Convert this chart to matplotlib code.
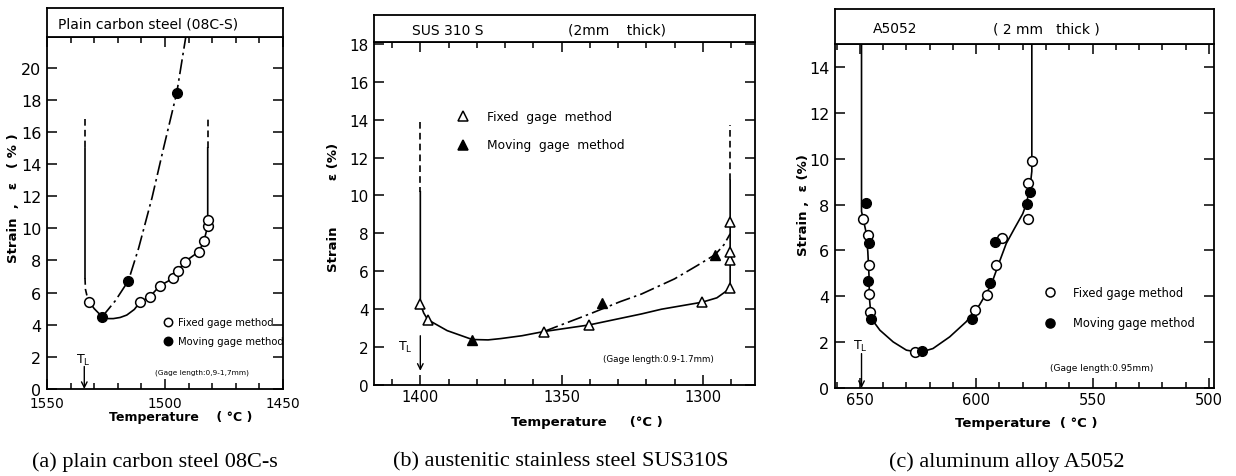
#!/usr/bin/env python3

import matplotlib.pyplot as plt
from matplotlib.ticker import MultipleLocator

# ---- (a) plain carbon steel 08C-S ----
a_fixed_temp = [1532.1, 1510.6, 1506.4, 1502.1, 1496.5, 1494.4, 1491.5, 1485.6, 1483.5, 1481.9, 1481.9]
a_fixed_strain = [5.44, 5.40, 5.75, 6.43, 6.89, 7.37, 7.93, 8.55, 9.21, 10.14, 10.52]
a_moving_temp = [1526.8, 1515.5, 1495.0]
a_moving_strain = [4.46, 6.74, 18.44]

# hand-drawn curves
a_fixed_curve_temp = [1532.1, 1530.0, 1528.0, 1526.8, 1524.0, 1521.9, 1519.0, 1516.2, 1513.0,
                      1510.6, 1506.4, 1502.1, 1496.5, 1494.4, 1491.5, 1485.6, 1483.5, 1481.9,
                      1481.9, 1481.9]
a_fixed_curve_strain = [5.44, 5.00, 4.70, 4.50, 4.38, 4.38, 4.45, 4.60, 4.95,
                        5.40, 5.75, 6.43, 6.89, 7.37, 7.93, 8.55, 9.21, 10.14,
                        10.52, 15.0]
a_left_solid_temp = [1533.9, 1533.9]
a_left_solid_strain = [15.0, 6.9]
a_left_top_temp = [1533.9, 1533.9]
a_left_top_strain = [16.8, 15.0]
a_left_low_temp = [1533.9, 1533.7, 1532.9, 1532.1]
a_left_low_strain = [6.9, 6.2, 5.7, 5.44]
a_right_top_temp = [1481.9, 1481.9]
a_right_top_strain = [15.0, 16.8]
a_moving_curve_temp = [1526.8, 1521.0, 1515.5, 1511.2, 1505.5, 1500.6, 1495.0, 1491.2]
a_moving_curve_strain = [4.46, 5.50, 6.74, 8.75, 11.9, 15.0, 18.44, 21.9]
a_liquidus = 1534.2

# ---- (b) austenitic stainless steel SUS310S ----
b_fixed_temp = [1400.0, 1397.4, 1356.3, 1340.2, 1300.2, 1290.3, 1290.3, 1290.3, 1290.3]
b_fixed_strain = [4.28, 3.45, 2.82, 3.17, 4.37, 5.10, 6.60, 7.00, 8.60]
b_moving_temp = [1381.6, 1335.6, 1295.6]
b_moving_strain = [2.38, 4.35, 6.88]

b_fixed_curve_temp = [1400.0, 1400.0, 1398.8, 1397.4, 1390.5, 1385.0, 1381.6, 1376.0, 1371.5,
                      1364.0, 1356.3, 1340.2, 1321.7, 1314.6, 1300.2, 1295.0, 1290.3, 1290.3]
b_fixed_curve_strain = [10.2, 4.28, 3.80, 3.45, 2.87, 2.58, 2.40, 2.38, 2.45,
                        2.60, 2.82, 3.17, 3.75, 4.00, 4.37, 4.60, 5.10, 10.8]
b_left_top_temp = [1400.0, 1400.0]
b_left_top_strain = [13.9, 10.2]
b_right_top_temp = [1290.3, 1290.3]
b_right_top_strain = [10.8, 13.7]
b_moving_curve_temp = [1356.3, 1340.0, 1329.2, 1321.7, 1310.0, 1302.0, 1295.6, 1292.5, 1290.3]
b_moving_curve_strain = [2.82, 3.75, 4.40, 4.80, 5.60, 6.30, 6.88, 7.40, 7.98]
b_liquidus = 1400.0

# ---- (c) aluminum alloy A5052 ----
c_fixed_temp = [648.6, 646.4, 646.0, 646.0, 645.7, 626.3, 600.7, 595.3, 591.7, 588.8, 577.9, 577.7, 576.1]
c_fixed_strain = [7.38, 6.65, 5.36, 4.10, 3.32, 1.57, 3.40, 4.05, 5.36, 6.56, 8.96, 7.36, 9.91]
c_moving_temp = [647.4, 646.1, 646.6, 645.1, 623.1, 601.7, 593.9, 592.1, 578.1, 577.1]
c_moving_strain = [8.06, 6.31, 4.66, 3.00, 1.60, 3.03, 4.60, 6.38, 8.03, 8.53]

c_curve_temp = [649.3, 649.3, 648.6, 647.4, 646.6, 646.1, 645.9, 645.1, 641.4, 635.7, 630.0,
                624.3, 618.6, 611.4, 604.3, 598.6, 593.6, 590.0, 587.1, 583.6, 580.0,
                578.6, 576.9, 576.1, 576.1, 576.1]
c_curve_strain = [15.0, 7.70, 7.38, 6.82, 5.95, 4.93, 3.91, 3.03, 2.52, 2.01, 1.65,
                  1.55, 1.72, 2.23, 2.89, 3.62, 4.49, 5.51, 6.30, 6.95, 7.60,
                  7.99, 8.72, 9.45, 9.91, 15.0]
c_liquidus = 649.3

DASH_DOT = (0, (9, 2.5, 1.5, 2.5))
DASHED = (0, (4, 2.5))
FONT = "DejaVu Sans"


def style_axes(ax, xlim, ylim, xmajor, ymajor, xlabel_size, ylabel_size, xpad=3):
    ax.set_xlim(*xlim)
    ax.set_ylim(*ylim)
    ax.xaxis.set_major_locator(MultipleLocator(xmajor))
    ax.xaxis.set_minor_locator(MultipleLocator(10))
    ax.yaxis.set_major_locator(MultipleLocator(ymajor))
    ax.tick_params(which="both", direction="in", top=True, right=True, width=1.1)
    ax.tick_params(which="major", length=7)
    ax.tick_params(which="minor", length=4)
    ax.tick_params(axis="x", labelsize=xlabel_size, pad=xpad)
    ax.tick_params(axis="y", labelsize=ylabel_size, pad=4)
    for s in ax.spines.values():
        s.set_linewidth(1.3)


def header(fig, rect, items, size):
    hx = fig.add_axes(rect)
    hx.set_xticks([])
    hx.set_yticks([])
    for s in hx.spines.values():
        s.set_linewidth(1.3)
    for x, txt in items:
        hx.text(x, 0.45, txt, ha="left", va="center", fontsize=size, family=FONT)


def legend_keys(ax, x, y1, y2, tx, marker, size, fs, gap=""):
    ax.plot([x], [y1], marker=marker, ms=size, mfc="white", mec="black", mew=1.1,
            transform=ax.transAxes, clip_on=False)
    ax.plot([x], [y2], marker=marker, ms=size, mfc="black", mec="black", mew=1.1,
            transform=ax.transAxes, clip_on=False)
    ax.text(tx, y1, gap.join(["Fixed", "gage", "method"]) if gap else "Fixed gage method",
            transform=ax.transAxes, va="center", fontsize=fs, family=FONT)
    ax.text(tx, y2, gap.join(["Moving", "gage", "method"]) if gap else "Moving gage method",
            transform=ax.transAxes, va="center", fontsize=fs, family=FONT)


def liquidus(ax, temp, y_from, y_to, tx, ty):
    ax.annotate("", xy=(temp, y_to), xytext=(temp, y_from),
                arrowprops=dict(arrowstyle="->", lw=1.0, color="black", shrinkA=0, shrinkB=0))
    ax.text(tx, ty, r"T$_\mathregular{L}$", ha="center", va="center", fontsize=9, family=FONT)


def draw_a(fig):
    ax = fig.add_axes([47 / 1236, 87 / 477, 236 / 1236, 352 / 477])
    style_axes(ax, (1550, 1450), (0, 21.9), 50, 2, 9.8, 11.5, xpad=5)

    ax.plot(a_fixed_curve_temp, a_fixed_curve_strain, color="black", lw=1.2)
    ax.plot(a_left_solid_temp, a_left_solid_strain, color="black", lw=1.2)
    ax.plot(a_left_top_temp, a_left_top_strain, color="black", lw=1.2, ls=DASHED)
    ax.plot(a_left_low_temp, a_left_low_strain, color="black", lw=1.2, ls=DASHED)
    ax.plot(a_right_top_temp, a_right_top_strain, color="black", lw=1.2, ls=DASHED)
    ax.plot(a_moving_curve_temp, a_moving_curve_strain, color="black", lw=1.2, ls=DASH_DOT)
    ax.plot(a_fixed_temp, a_fixed_strain, "o", ms=7, mfc="white", mec="black", mew=1.1, zorder=3)
    ax.plot(a_moving_temp, a_moving_strain, "o", ms=7, mfc="black", mec="black", zorder=3)

    liquidus(ax, a_liquidus, 1.4, 0, 1534.6, 1.85)
    legend_keys(ax, 0.513, 0.190, 0.136, 0.555, "o", 6, 7.2)
    ax.text(0.458, 0.048, "(Gage length:0,9-1,7mm)", transform=ax.transAxes,
            fontsize=5.3, family=FONT, va="center")
    ax.text(0.568, -0.077, "Temperature    ( °C )", transform=ax.transAxes, ha="center",
            va="center", fontsize=9, fontweight="bold", family=FONT)
    ax.text(-0.14, 0.545, "Strain  ,   ε   ( % )", transform=ax.transAxes, ha="center",
            va="center", rotation=90, fontsize=9.5, fontweight="bold", family=FONT)
    header(fig, [47 / 1236, 1 - 38 / 477, 236 / 1236, 29 / 477],
           [(0.047, "Plain carbon steel (08C-S)")], 10)


def draw_b(fig):
    ax = fig.add_axes([374 / 1236, 91 / 477, 381 / 1236, 343 / 477])
    style_axes(ax, (1416.4, 1281.5), (0, 18.1), 50, 2, 10.5, 11)

    ax.plot(b_fixed_curve_temp, b_fixed_curve_strain, color="black", lw=1.2)
    ax.plot(b_left_top_temp, b_left_top_strain, color="black", lw=1.2, ls=DASHED)
    ax.plot(b_right_top_temp, b_right_top_strain, color="black", lw=1.2, ls=DASHED)
    ax.plot(b_moving_curve_temp, b_moving_curve_strain, color="black", lw=1.2, ls=DASH_DOT)
    ax.plot(b_fixed_temp, b_fixed_strain, "^", ms=7.5, mfc="white", mec="black", mew=1.1, zorder=3)
    ax.plot(b_moving_temp, b_moving_strain, "^", ms=7.5, mfc="black", mec="black", zorder=3)

    liquidus(ax, b_liquidus, 2.6, 0.75, 1405.2, 2.05)
    legend_keys(ax, 0.234, 0.784, 0.700, 0.297, "^", 6.5, 8.8, gap="  ")
    ax.text(0.601, 0.076, "(Gage length:0.9-1.7mm)", transform=ax.transAxes,
            fontsize=6.3, family=FONT, va="center")
    ax.text(0.559, -0.105, "Temperature     (°C )", transform=ax.transAxes, ha="center",
            va="center", fontsize=9.5, fontweight="bold", family=FONT)
    ax.text(-0.105, 0.52, "Strain          ε (%)", transform=ax.transAxes, ha="center",
            va="center", rotation=90, fontsize=9.5, fontweight="bold", family=FONT)
    header(fig, [374 / 1236, 1 - 43 / 477, 381 / 1236, 27 / 477],
           [(0.10, "SUS 310 S"), (0.509, "(2mm    thick)")], 10)


def draw_c(fig):
    ax = fig.add_axes([835 / 1236, 88 / 477, 379 / 1236, 344 / 477])
    style_axes(ax, (660.7, 497.8), (0, 15.0), 50, 2, 10.5, 11.5)

    ax.plot(c_curve_temp, c_curve_strain, color="black", lw=1.2)
    ax.plot(c_fixed_temp, c_fixed_strain, "o", ms=7, mfc="white", mec="black", mew=1.1, zorder=3)
    ax.plot(c_moving_temp, c_moving_strain, "o", ms=7, mfc="black", mec="black", zorder=3)

    liquidus(ax, c_liquidus, 1.5, 0, 649.7, 1.85)
    legend_keys(ax, 0.567, 0.279, 0.189, 0.628, "o", 6.5, 8.3)
    ax.text(0.567, 0.061, "(Gage length:0.95mm)", transform=ax.transAxes,
            fontsize=6.5, family=FONT, va="center")
    ax.text(0.504, -0.099, "Temperature  ( °C )", transform=ax.transAxes, ha="center",
            va="center", fontsize=9.5, fontweight="bold", family=FONT)
    ax.text(-0.082, 0.535, "Strain ,  ε (%)", transform=ax.transAxes, ha="center",
            va="center", rotation=90, fontsize=9.5, fontweight="bold", family=FONT)
    header(fig, [835 / 1236, 1 - 45 / 477, 379 / 1236, 35 / 477],
           [(0.10, "A5052"), (0.417, "( 2 mm   thick )")], 10)


def main():
    plt.rcParams["font.family"] = [FONT]
    fig = plt.figure(figsize=(12.36, 4.77), dpi=100)

    draw_a(fig)
    draw_b(fig)
    draw_c(fig)

    caps = [
        (155, "(a) plain carbon steel 08C-s"),
        (561, "(b) austenitic stainless steel SUS310S"),
        (1007, "(c) aluminum alloy A5052"),
    ]
    for x, txt in caps:
        fig.text(x / 1236, 1 - 462 / 477, txt, ha="center", va="center",
                 fontsize=16, family="Liberation Serif")

    fig.savefig("out.png", dpi=100)
    plt.close(fig)


if __name__ == "__main__":
    main()
